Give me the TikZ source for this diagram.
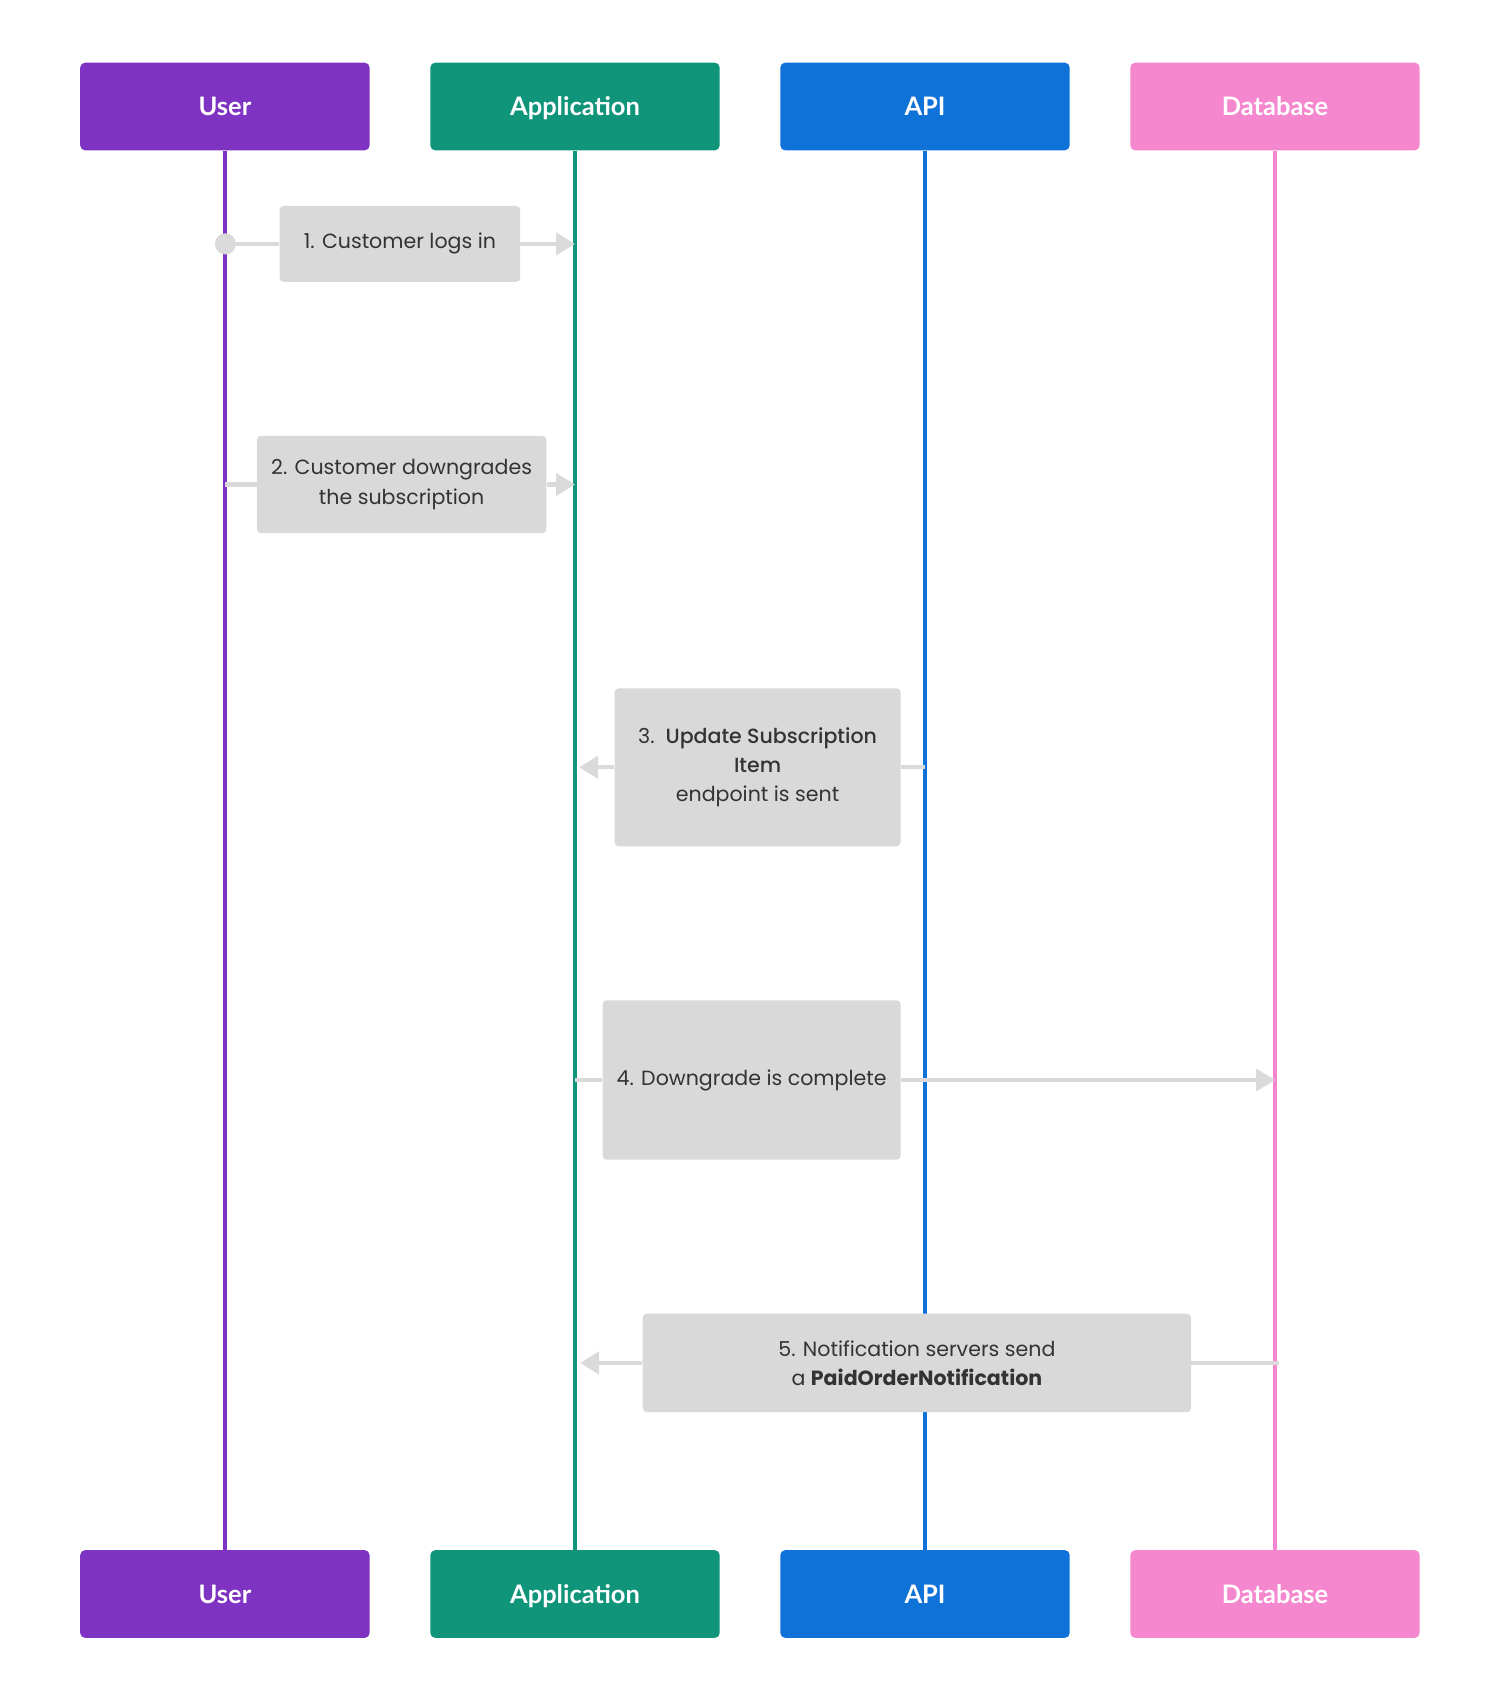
\documentclass[tikz,border=0pt]{standalone}
\usepackage{fontspec}
\setmainfont{Poppins}
\newfontfamily\headfont{Lato}
\newfontfamily\medfont{Poppins Medium}
\usetikzlibrary{arrows.meta}

\definecolor{userpurple}{HTML}{7E33C2}
\definecolor{appteal}{HTML}{10957B}
\definecolor{apiblue}{HTML}{0E72D8}
\definecolor{dbpink}{HTML}{F587CF}
\definecolor{msggray}{HTML}{D9D9D9}
\definecolor{arrowgray}{HTML}{DADADA}
\definecolor{msgtext}{HTML}{333333}

\begin{document}
\begin{tikzpicture}[x=0.02cm,y=-0.02cm,
  actor/.style={rectangle,rounded corners=0.1cm,minimum width=5.79cm,minimum height=1.756cm,
    text height=10.4pt,text depth=0pt,
    text=white,font=\headfont\bfseries\fontsize{14.5}{17}\selectfont},
  msg/.style={rectangle,fill=msggray,rounded corners=0.08cm,align=center,inner sep=0pt,
    text=msgtext,font=\fontsize{11.7}{16.6}\selectfont},
  lifeline/.style={line width=1.85pt},
  ret/.style={draw=arrowgray,line width=2.45pt},
  call/.style={ret,-{Triangle[length=0.38cm,width=0.44cm]}}]

\useasboundingbox (0,0) rectangle (1500,1700);

%actors on top and bottom
\node[actor,fill=userpurple] (userT) at (224.9,106.5) {User};
\node[actor,fill=appteal] (appT) at (575,106.5) {Application};
\node[actor,fill=apiblue] (apiT) at (925,106.5) {API};
\node[actor,fill=dbpink] (dbT) at (1275,106.5) {Database};

\node[actor,fill=userpurple] (userB) at (224.9,1594) {User};
\node[actor,fill=appteal] (appB) at (575,1594) {Application};
\node[actor,fill=apiblue] (apiB) at (925,1594) {API};
\node[actor,fill=dbpink] (dbB) at (1275,1594) {Database};

%lifelines
\draw[lifeline,userpurple] (userT) -- (userB);
\draw[lifeline,appteal] (appT) -- (appB);
\draw[lifeline,apiblue] (apiT) -- (apiB);
\draw[lifeline,dbpink] (dbT) -- (dbB);

%message boxes
\node[msg,minimum width=4.81cm,minimum height=1.52cm] (m1) at (399.9,243.9) {1. Customer logs in};
\node[msg,minimum width=5.79cm,minimum height=1.95cm] (m2) at (401.6,484.5) {2. Customer downgrades\\the subscription};
\node[msg,minimum width=5.72cm,minimum height=3.16cm] (m3) at (757.6,767.3) {3.\ \ {\medfont Update Subscription}\\{\medfont Item}\\endpoint is sent};
\node[msg,minimum width=5.96cm,minimum height=3.19cm] (m4) at (751.6,1080) {4. Downgrade is complete};
\node[msg,minimum width=10.97cm,minimum height=1.97cm] (m5) at (916.9,1362.9) {5. Notification servers send\\a \textbf{PaidOrderNotification}};

%arrows
\draw[ret,{Circle[length=0.42cm]}-,shorten <=-0.2cm] (m1.west -| userT) -- (m1.west);
\draw[call] (m1.east) -- (m1.east -| appT);

\draw[ret] (m2.west -| userT) -- (m2.west);
\draw[call] (m2.east) -- (m2.east -| appT);

\draw[ret] (m3.east -| apiT) -- (m3.east);
\draw[call,shorten >=0.08cm] (m3.west) -- (m3.west -| appT);

\draw[ret] (m4.west -| appT) -- (m4.west);
\draw[call] (m4.east) -- (m4.east -| dbT);

\draw[ret,shorten <=-0.08cm] (m5.east -| dbT) -- (m5.east);
\draw[call,shorten >=0.1cm] (m5.west) -- (m5.west -| appT);

\end{tikzpicture}
\end{document}
